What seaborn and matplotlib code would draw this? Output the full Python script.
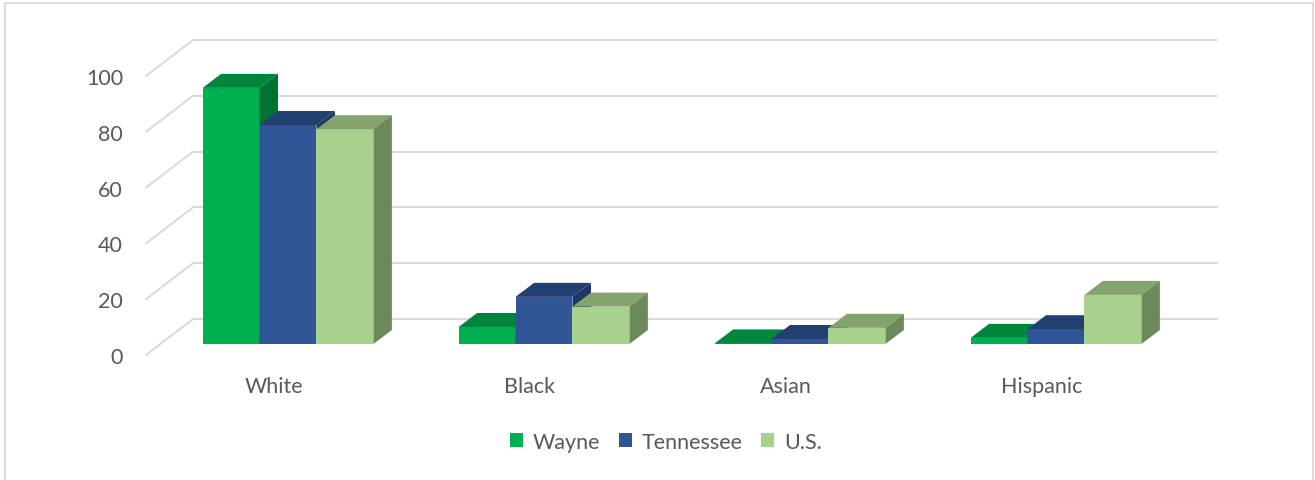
import numpy as np
import pandas as pd
import matplotlib
matplotlib.use("Agg")
import matplotlib.pyplot as plt
import seaborn as sns
from matplotlib.patches import Polygon, Rectangle, Patch
from matplotlib.lines import Line2D
from matplotlib.transforms import IdentityTransform

categories = ["White", "Black", "Asian", "Hispanic"]
series = ["Wayne", "Tennessee", "U.S."]
wayne = [91.8, 6.1, 0.2, 2.2]
tennessee = [78.5, 16.9, 1.8, 5.3]
us = [77.0, 13.4, 5.8, 17.6]
y_ticks = [0, 20, 40, 60, 80, 100]

front_colors = ["#00B050", "#2F5597", "#A9D18E"]
top_colors = ["#00853D", "#223F72", "#84A36D"]
side_colors = ["#007232", "#1D3663", "#6C8A58"]
text_color = "#595959"
grid_color = "#D9D9D9"

values = {"Wayne": wayne, "Tennessee": tennessee, "U.S.": us}
rows = []
for s in series:
    for c, v in zip(categories, values[s]):
        rows.append({"category": c, "series": s, "value": v})
df = pd.DataFrame(rows)

sns.set_theme(style="white")
plt.rcParams["font.family"] = ["Lato", "DejaVu Sans"]

W, H = 1315, 481
fig = plt.figure(figsize=(W / 100, H / 100), dpi=100)
fig.patch.set_facecolor("white")

FS = 15.5

# depth offsets (display pixels, y up)
BAR_D = (18.5, 14.0)
BACK_D = (33.0, 25.0)
FRONT_D = (-14.0, -11.0)

# front-plane axes for labels
axf = fig.add_axes([146 / W, 125 / H, 1024 / W, 279 / H])
axf.set_xlim(-0.5, 3.5)
axf.set_ylim(0, 100)
axf.set_facecolor("none")
for sp in axf.spines.values():
    sp.set_visible(False)
axf.set_yticks(y_ticks)
axf.set_yticklabels([str(t) for t in y_ticks])
axf.set_xticks(range(len(categories)))
axf.set_xticklabels(categories)
axf.tick_params(axis="y", length=0, pad=16.5, labelsize=FS, labelcolor=text_color)
axf.tick_params(axis="x", length=0, pad=15, labelsize=FS, labelcolor=text_color)
axf.grid(False)

# bar-front-plane axes
ax = fig.add_axes([160 / W, 136 / H, 1024 / W, 279 / H])
ax.set_facecolor("none")
sns.barplot(data=df, x="category", y="value", hue="series", hue_order=series,
            palette=front_colors, width=0.667, linewidth=0, saturation=1,
            legend=False, ax=ax)
ax.set_xlim(-0.5, 3.5)
ax.set_ylim(0, 100)
ax.axis("off")

ident = IdentityTransform()

def disp(x, y, d=(0, 0)):
    p = ax.transData.transform((x, y))
    return (p[0] + d[0], p[1] + d[1])

# gridlines on back wall and side wall
for t in y_ticks:
    a = disp(-0.5, t, BACK_D)
    b = disp(3.5, t, BACK_D)
    f = disp(-0.5, t, FRONT_D)
    for p0, p1 in ((a, b), (f, a)):
        ln = Line2D([p0[0], p1[0]], [p0[1], p1[1]], color=grid_color, lw=1.4,
                    transform=ident, zorder=0.5, clip_on=False)
        ax.add_line(ln)

# 3D faces
for k, cont in enumerate(ax.containers):
    for bar in cont:
        bar.set_zorder(2 + k)
        x0, w, h = bar.get_x(), bar.get_width(), bar.get_height()
        top = [disp(x0, h), disp(x0 + w, h), disp(x0 + w, h, BAR_D), disp(x0, h, BAR_D)]
        side = [disp(x0 + w, 0), disp(x0 + w, h), disp(x0 + w, h, BAR_D), disp(x0 + w, 0, BAR_D)]
        ax.add_patch(Polygon(top, closed=True, facecolor=top_colors[k], edgecolor="none",
                             transform=ident, zorder=2.5 + k, clip_on=False))
        ax.add_patch(Polygon(side, closed=True, facecolor=side_colors[k], edgecolor="none",
                             transform=ident, zorder=2.5 + k, clip_on=False))

# legend
handles = [Patch(facecolor=c, edgecolor="none", label=s) for c, s in zip(front_colors, series)]
fig.legend(handles=handles, loc="center", bbox_to_anchor=(666 / W, 1 - 443 / H), ncol=3,
           frameon=False, handlelength=0.62, handleheight=0.62, handletextpad=0.45,
           columnspacing=0.85, fontsize=FS, labelcolor=text_color)

# chart border
fig.add_artist(Rectangle((5 / W, -0.02), (1313 - 5) / W, 477 / H + 0.02, transform=fig.transFigure,
                         fill=False, edgecolor=grid_color, lw=1.3))

fig.savefig("out.png", dpi=100)
